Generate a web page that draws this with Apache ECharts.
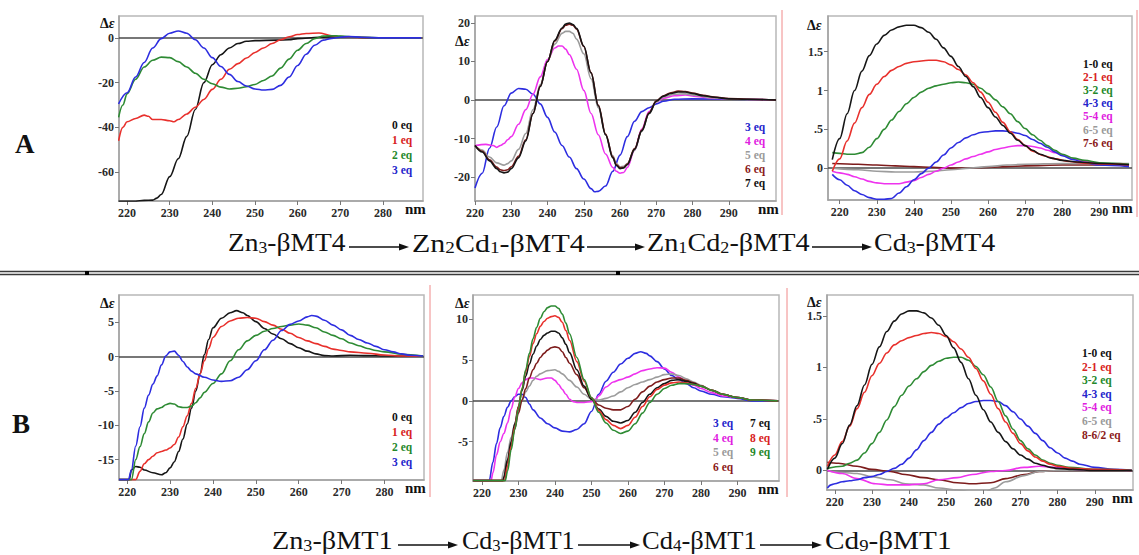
<!DOCTYPE html>
<html>
<head>
<meta charset="utf-8">
<script src="https://cdn.jsdelivr.net/npm/echarts@6/dist/echarts.min.js"></script>
<style>
html,body{margin:0;padding:0;background:#fff;}
#chart{width:1139px;height:555px;}
</style>
</head>
<body>
<div id="chart"></div>
<script>
// ---------- CD spectra: [wavelength nm, Δε] ----------
// Row A, panel 1: Zn3-βMT4 + Cd(II)
const a1Eq0 = [[218,-73],[220,-73],[222,-73],[224,-72.6],[226,-72.5],[227,-71.6],[228,-70],[230,-62],[232,-54],[234,-44],[236,-32],[238,-20],[240,-12],[242,-7.5],[244,-4.5],[246,-2.5],[248,-1.5],[250,-1.2],[255,-1],[258,-0.8],[260,-0.3],[265,0.3],[270,0.6],[275,0.2],[280,0],[289,0]];
const a1Eq1 = [[218,-46],[219,-40],[220,-37.5],[222,-36],[224,-34.5],[225,-35],[226,-36.5],[228,-36.5],[230,-37],[231,-37.5],[232,-36.5],[234,-34],[236,-31],[238,-27.5],[240,-23],[242,-18.5],[244,-14],[246,-11.5],[248,-9],[250,-6.5],[252,-4.5],[254,-2.5],[256,-0.8],[258,0.5],[260,1.5],[262,2],[265,2.2],[268,1],[270,0.5],[275,0.2],[280,0],[289,0]];
const a1Eq2 = [[218,-35.5],[219,-30],[220,-25],[222,-18.5],[224,-13],[226,-10],[228,-8.6],[230,-8.8],[232,-10.6],[234,-13],[236,-15.8],[238,-18.5],[240,-20.5],[242,-22],[244,-22.8],[246,-22.5],[248,-21.8],[250,-20.8],[252,-19],[254,-17],[256,-13.5],[258,-9.5],[260,-5.5],[262,-2.5],[264,-0.3],[266,0.8],[268,1],[270,0.8],[275,0.3],[280,0],[289,0]];
const a1Eq3 = [[218,-29.5],[220,-24.5],[222,-17.5],[224,-11],[226,-4.5],[228,-0.3],[230,2.1],[232,3.1],[234,2.1],[236,-0.8],[238,-4.5],[240,-8.8],[242,-12.8],[244,-16.3],[246,-19.5],[248,-21.5],[250,-22.8],[252,-23.3],[254,-23],[256,-21.2],[258,-17.5],[260,-12.3],[262,-7.3],[264,-3.3],[266,-1],[268,-0.2],[270,0.3],[272,0.6],[275,0.3],[280,0],[289,0]];

// Row A, panel 2: Zn2Cd1-βMT4 -> Zn1Cd2-βMT4
const a2Eq3 = [[220,-22.8],[222,-19],[224,-12.5],[226,-7],[228,-1.5],[230,1.8],[232,3],[234,2.8],[236,1.5],[238,-1],[240,-4.5],[242,-8.3],[244,-11.8],[246,-14.8],[248,-17.8],[250,-20.5],[252,-23],[253,-23.8],[254,-23.7],[256,-22.3],[258,-18.5],[260,-14.3],[262,-9.5],[264,-5.5],[266,-3],[268,-2],[270,-1],[272,-0.3],[275,0.2],[280,0.3],[290,0.2],[303,0]];
const a2Eq4 = [[220,-11.8],[223,-11.5],[225,-11.8],[226,-12.3],[227,-11.8],[228,-11.3],[229,-10.3],[230,-9.5],[232,-6.3],[234,-2.5],[236,1.5],[238,6],[240,10.5],[242,13.5],[243,14],[244,14],[245,13.2],[246,11.8],[248,8],[250,2.5],[252,-3.5],[254,-9],[256,-14],[258,-17.5],[259,-18.5],[260,-19],[261,-18.8],[262,-17.5],[264,-13],[266,-7.5],[268,-3],[270,-0.5],[272,0.5],[275,1.1],[278,1.3],[281,0.9],[285,0.5],[290,0.3],[303,0]];
const a2Eq5 = [[220,-11.8],[222,-13],[224,-14.8],[226,-16.3],[228,-16.9],[229,-16.5],[230,-15.8],[232,-12.8],[234,-8.7],[236,-2.5],[238,4],[240,10],[242,14.5],[244,17.3],[245,17.8],[246,17.8],[247,17.3],[248,15.8],[250,12],[252,5.5],[254,-2],[256,-9],[258,-14.5],[259,-16.5],[260,-17.3],[261,-17.2],[262,-16.5],[264,-13],[266,-8],[268,-3.5],[270,-0.5],[272,0.8],[275,1.5],[278,1.6],[281,1.2],[285,0.6],[290,0.3],[303,0]];
const a2Eq6 = [[220,-11.8],[222,-13.3],[224,-15.5],[226,-17.4],[227,-18.1],[228,-18.3],[229,-18.1],[230,-17.3],[232,-14.6],[234,-10.3],[236,-3.5],[238,3.6],[240,10],[242,15.3],[244,18.5],[245,19.4],[246,19.7],[247,19.4],[248,18.4],[250,13.9],[252,7.1],[254,-1.3],[256,-8.8],[258,-14.8],[259,-16.8],[260,-17.6],[261,-17.5],[262,-16.6],[264,-12.6],[266,-7.8],[268,-3.3],[270,-0.2],[272,1.1],[274,1.9],[276,2.3],[278,2.2],[280,1.8],[283,1.2],[286,0.8],[290,0.4],[295,0.2],[303,0]];
const a2Eq7 = [[220,-11.8],[222,-13.5],[224,-15.8],[226,-17.8],[227,-18.6],[228,-18.9],[229,-18.7],[230,-17.8],[232,-15],[234,-10.6],[236,-3.5],[238,3.5],[240,10],[242,15.5],[244,18.7],[245,19.7],[246,20],[247,19.6],[248,18.6],[250,14],[252,7],[254,-1.5],[256,-9],[258,-15],[259,-17],[260,-17.8],[261,-17.6],[262,-16.8],[264,-12.8],[266,-8],[268,-3.5],[270,-0.3],[272,1],[274,1.7],[276,2.1],[278,2.1],[280,1.7],[283,1.1],[286,0.7],[290,0.3],[295,0.2],[303,0]];

// Row A, panel 3: difference spectra
const a3D10 = [[218,0.11],[220,0.38],[222,0.7],[224,1.0],[226,1.25],[228,1.45],[230,1.6],[232,1.71],[234,1.78],[236,1.82],[238,1.84],[240,1.84],[242,1.81],[244,1.75],[246,1.66],[248,1.55],[250,1.44],[252,1.31],[254,1.18],[256,1.05],[258,0.91],[260,0.78],[262,0.66],[264,0.55],[266,0.45],[268,0.36],[270,0.29],[272,0.23],[274,0.18],[277,0.13],[280,0.1],[284,0.08],[290,0.06],[298,0.045]];
const a3D21 = [[218,-0.04],[220,0.12],[222,0.35],[224,0.58],[226,0.78],[228,0.95],[230,1.08],[232,1.18],[234,1.26],[236,1.31],[238,1.35],[240,1.37],[244,1.39],[246,1.39],[248,1.37],[250,1.33],[252,1.27],[254,1.2],[256,1.1],[258,0.98],[260,0.85],[262,0.72],[264,0.59],[266,0.47],[268,0.37],[270,0.29],[272,0.22],[275,0.16],[278,0.12],[282,0.085],[286,0.065],[290,0.055],[298,0.045]];
const a3D32 = [[218,0.2],[220,0.19],[222,0.18],[224,0.18],[226,0.2],[228,0.27],[230,0.38],[232,0.5],[234,0.62],[236,0.73],[238,0.83],[240,0.91],[242,0.98],[244,1.03],[246,1.06],[248,1.08],[250,1.1],[252,1.11],[254,1.1],[256,1.08],[258,1.03],[260,0.96],[262,0.88],[264,0.79],[266,0.7],[268,0.6],[270,0.51],[272,0.43],[274,0.36],[276,0.29],[278,0.23],[280,0.18],[283,0.13],[286,0.1],[290,0.07],[298,0.05]];
const a3D43 = [[218,-0.08],[220,-0.15],[222,-0.22],[224,-0.29],[226,-0.34],[228,-0.38],[230,-0.4],[232,-0.4],[234,-0.39],[236,-0.32],[238,-0.24],[240,-0.15],[242,-0.07],[244,0.0],[246,0.08],[248,0.17],[250,0.26],[252,0.33],[254,0.39],[256,0.43],[258,0.46],[260,0.47],[262,0.48],[264,0.48],[266,0.47],[268,0.45],[270,0.42],[272,0.37],[274,0.32],[276,0.27],[278,0.21],[280,0.16],[283,0.11],[286,0.07],[290,0.04],[298,0.02]];
const a3D54 = [[218,-0.04],[220,-0.06],[222,-0.08],[224,-0.11],[226,-0.14],[228,-0.17],[230,-0.19],[232,-0.2],[234,-0.2],[236,-0.2],[238,-0.18],[240,-0.16],[242,-0.12],[244,-0.08],[246,-0.04],[248,0.0],[250,0.04],[252,0.08],[254,0.12],[256,0.15],[258,0.18],[260,0.21],[262,0.24],[264,0.26],[266,0.28],[268,0.29],[270,0.29],[272,0.28],[274,0.26],[276,0.23],[278,0.2],[280,0.17],[283,0.12],[286,0.09],[290,0.06],[298,0.04]];
const a3D65 = [[218,0.0],[225,-0.02],[230,-0.04],[235,-0.05],[240,-0.05],[245,-0.04],[250,-0.02],[255,0.0],[260,0.02],[265,0.04],[270,0.05],[280,0.06],[290,0.06],[298,0.06]];
const a3D76 = [[218,0.06],[225,0.05],[230,0.04],[235,0.03],[240,0.02],[245,0.01],[250,0.0],[255,0.0],[260,0.01],[265,0.02],[270,0.03],[280,0.04],[290,0.04],[298,0.04]];

// Row B, panel 1: Zn3-βMT1 + Cd(II)
const b1Eq0 = [[218.1,-17.9],[220.5,-17.9],[221,-16.5],[222,-16],[223,-16.1],[224,-16.5],[226,-16.9],[228,-17.2],[229,-16.9],[230,-16.2],[231,-15.3],[232,-13.8],[233,-12],[234,-9.8],[235,-7.5],[236,-5],[237,-2.5],[238,0.3],[239,2.5],[240,4.2],[242,5.6],[244,6.4],[245.5,6.7],[247,6.4],[248,6.0],[250,5.1],[252,4.1],[254,3.3],[256,2.6],[258,1.9],[260,1.3],[262,0.8],[264,0.4],[266,0.15],[268,0.1],[272,0.2],[276,0.15],[280,0.1],[289,0.05]];
const b1Eq1 = [[218.1,-17.9],[222,-17.9],[223,-16.7],[224,-15.6],[225,-15],[226,-14.5],[227,-14],[228,-13.8],[229,-13.6],[230,-13.3],[231,-12.8],[232,-11.7],[233,-10.2],[234,-8.6],[235,-6.8],[236,-4.6],[237,-2.5],[238,-0.6],[239,1.2],[240,2.8],[242,4.4],[244,5.2],[246,5.6],[248,5.7],[250,5.6],[252,5.1],[254,4.6],[256,4.0],[258,3.4],[260,2.8],[262,2.3],[264,1.9],[266,1.5],[268,1.1],[270,0.9],[272,0.7],[276,0.5],[280,0.25],[284,0.1],[289,0.05]];
const b1Eq2 = [[218.1,-17.9],[221,-17.9],[222,-15],[223,-13.1],[224,-11.2],[225,-9.5],[226,-8.2],[227,-7.6],[228,-7.4],[229,-7.0],[230,-6.8],[231,-6.9],[232,-7.3],[233,-7.4],[234,-7.4],[235,-7.2],[236,-6.7],[237,-6.0],[238,-5.2],[240,-3.9],[242,-2.5],[244,-0.6],[246,1.0],[248,2.3],[250,3.1],[252,3.7],[254,4.1],[256,4.4],[258,4.6],[260,4.75],[262,4.6],[264,4.2],[266,3.6],[268,3.1],[270,2.6],[272,2.0],[274,1.6],[276,1.2],[278,0.9],[280,0.7],[284,0.35],[289,0.1]];
const b1Eq3 = [[218.1,-17.9],[220.3,-17.9],[221,-16.5],[222,-13],[223,-10.2],[224,-7.5],[225,-5.6],[226,-4],[227,-2.8],[228,-1.2],[229,0.1],[230,0.7],[231,0.8],[232,0.2],[233,-0.7],[234,-1.5],[235,-2.1],[236,-2.5],[238,-3.0],[240,-3.4],[242,-3.6],[244,-3.5],[246,-3.0],[248,-1.9],[250,-0.6],[252,1],[254,2.4],[256,3.8],[258,4.7],[260,5.2],[262,5.8],[263,6.0],[264,5.9],[266,5.3],[268,4.6],[270,3.9],[272,3.1],[274,2.5],[276,2.0],[278,1.5],[280,1.0],[282,0.7],[284,0.4],[286,0.2],[289,0.1]];

// Row B, panel 2: Cd3-βMT1 -> Cd9-βMT1
const b2Eq3 = [[217.6,-9.75],[222,-9.75],[223,-7.5],[224,-5.2],[225,-3.3],[226,-1.9],[227,-0.8],[228,0.0],[229,0.5],[230,0.8],[231,0.8],[232,0.4],[233,-0.4],[234,-1.1],[236,-2.1],[238,-2.8],[240,-3.3],[242,-3.7],[244,-3.8],[246,-3.5],[248,-2.8],[250,-1.3],[252,0.8],[254,2.4],[256,3.5],[258,4.5],[260,5.2],[262,5.8],[263.5,6.0],[265,5.8],[266,5.5],[268,4.8],[270,3.9],[272,3.1],[274,2.6],[276,2.1],[278,1.6],[280,1.2],[283,0.8],[286,0.5],[290,0.3],[294,0],[301,0]];
const b2Eq4 = [[217.6,-9.75],[222.5,-9.75],[223,-8.8],[224,-6.6],[225,-5.0],[226,-4.0],[227,-2.7],[228,-1.0],[229,0.5],[230,1.5],[231,2.2],[232,2.6],[233,2.8],[234,2.8],[235,2.7],[236,2.6],[237,2.7],[238,2.8],[239,2.8],[240,2.5],[241,2.0],[242,1.4],[243,0.8],[244,0.2],[245,-0.1],[246,-0.2],[248,-0.2],[250,-0.1],[251,0.1],[252,0.6],[254,1.7],[256,2.3],[258,2.6],[260,2.9],[262,3.3],[264,3.7],[266,3.9],[268,4.05],[270,4.0],[272,3.5],[274,2.9],[276,2.3],[278,1.9],[280,1.5],[283,1.0],[286,0.6],[290,0.4],[294,0.1],[301,0]];
const b2Eq5 = [[217.6,-9.75],[225.3,-9.75],[226,-8.5],[227,-6.3],[228,-4.5],[229,-2.8],[230,-1.1],[231,0.1],[232,1.1],[233,1.8],[234,2.5],[235,3.0],[236,3.3],[238,3.7],[240,3.8],[241,3.6],[242,3.3],[244,2.5],[246,1.7],[248,0.8],[250,0.2],[252,0.1],[254,0.3],[256,0.6],[258,1.1],[260,1.6],[262,2.0],[264,2.3],[266,2.6],[268,2.9],[270,3.2],[272,3.3],[274,3.1],[276,2.7],[278,2.3],[280,1.9],[283,1.2],[286,0.8],[290,0.4],[294,0.1],[301,0]];
const b2Eq6 = [[217.6,-9.75],[225.8,-9.75],[226,-9.4],[227,-7.5],[228,-5.4],[229,-3.4],[230,-1.5],[231,0.1],[232,1.5],[233,2.8],[234,3.8],[235,4.6],[236,5.3],[237,5.8],[238,6.2],[239,6.5],[240,6.6],[241,6.5],[242,6.0],[243,5.3],[244,4.6],[246,3.2],[248,1.6],[250,0.3],[252,-0.5],[254,-0.9],[256,-1.1],[258,-1.1],[260,-0.7],[262,0.2],[264,1.1],[266,1.8],[268,2.3],[270,2.6],[272,2.8],[274,2.8],[276,2.5],[278,2.2],[280,1.8],[283,1.3],[286,0.8],[290,0.4],[294,0.1],[301,0]];
const b2Eq7 = [[217.6,-9.75],[225.8,-9.75],[226,-9.3],[227,-7.2],[228,-5.0],[229,-2.8],[230,-0.7],[231,1.3],[232,3.0],[233,4.5],[234,5.7],[235,6.7],[236,7.5],[237,8.0],[238,8.3],[239,8.5],[240,8.5],[241,8.3],[242,7.7],[243,6.9],[244,5.9],[246,3.8],[248,1.8],[250,0.2],[252,-1.0],[254,-1.9],[256,-2.5],[258,-2.7],[260,-2.4],[262,-1.4],[264,-0.2],[266,0.8],[268,1.6],[270,2.1],[272,2.5],[274,2.6],[276,2.4],[278,2.1],[280,1.8],[283,1.3],[286,0.8],[290,0.4],[294,0.1],[301,0]];
const b2Eq8 = [[217.6,-9.75],[226.2,-9.75],[227,-8.0],[228,-5.6],[229,-3.2],[230,-0.8],[231,1.5],[232,3.6],[233,5.4],[234,7.0],[235,8.2],[236,9.1],[237,9.7],[238,10.1],[239,10.3],[240,10.4],[241,10.2],[242,9.6],[243,8.6],[244,7.4],[246,4.8],[248,2.4],[250,0.4],[252,-1.2],[254,-2.3],[256,-3.0],[258,-3.4],[260,-3.0],[262,-2.0],[264,-0.7],[266,0.5],[268,1.4],[270,1.9],[272,2.2],[274,2.3],[276,2.2],[278,2.0],[280,1.8],[283,1.3],[286,0.8],[290,0.4],[294,0.1],[301,0]];
const b2Eq9 = [[217.6,-9.75],[226.4,-9.75],[227,-8.6],[228,-6.0],[229,-3.5],[230,-1.0],[231,1.5],[232,3.8],[233,5.8],[234,7.6],[235,9.0],[236,10.1],[237,10.9],[238,11.4],[239,11.6],[240,11.6],[241,11.3],[242,10.6],[243,9.5],[244,8.2],[246,5.3],[248,2.6],[250,0.4],[252,-1.4],[254,-2.7],[256,-3.6],[258,-4.0],[260,-3.7],[262,-2.8],[264,-1.5],[266,-0.2],[268,0.8],[270,1.5],[272,1.9],[274,2.1],[276,2.1],[278,2.0],[280,1.8],[283,1.3],[286,0.8],[290,0.4],[294,0.1],[301,0]];

// Row B, panel 3: difference spectra
const b3D10 = [[218,0.01],[220,0.12],[222,0.26],[224,0.44],[226,0.63],[228,0.83],[230,1.03],[232,1.2],[234,1.35],[236,1.45],[238,1.52],[240,1.55],[242,1.55],[244,1.53],[246,1.48],[248,1.41],[250,1.31],[252,1.19],[254,1.05],[256,0.89],[258,0.73],[260,0.59],[262,0.47],[264,0.37],[266,0.28],[268,0.21],[270,0.15],[272,0.11],[274,0.07],[276,0.05],[278,0.03],[280,0.02],[284,0.01],[290,0.0],[300,0]];
const b3D21 = [[218,0.04],[220,0.15],[222,0.28],[224,0.43],[226,0.6],[228,0.76],[230,0.92],[232,1.04],[234,1.14],[236,1.22],[238,1.26],[240,1.29],[242,1.31],[244,1.33],[246,1.34],[248,1.33],[250,1.3],[252,1.25],[254,1.18],[256,1.1],[258,0.99],[260,0.87],[262,0.74],[264,0.6],[266,0.47],[268,0.36],[270,0.26],[272,0.19],[274,0.13],[276,0.09],[278,0.06],[280,0.04],[284,0.02],[290,0.01],[300,0]];
const b3D32 = [[218,0.02],[222,0.04],[224,0.07],[226,0.1],[228,0.17],[230,0.26],[232,0.37],[234,0.49],[236,0.62],[238,0.73],[240,0.82],[242,0.89],[244,0.96],[246,1.02],[248,1.06],[250,1.09],[252,1.1],[254,1.1],[256,1.07],[258,1.01],[260,0.93],[262,0.81],[264,0.67],[266,0.53],[268,0.4],[270,0.29],[272,0.21],[274,0.15],[276,0.1],[278,0.07],[280,0.05],[283,0.03],[290,0.01],[300,0]];
const b3D43 = [[218,-0.17],[219,-0.14],[220,-0.13],[222,-0.11],[224,-0.1],[226,-0.09],[228,-0.07],[230,-0.06],[232,-0.04],[234,-0.01],[236,0.02],[238,0.06],[240,0.12],[242,0.2],[244,0.29],[246,0.37],[248,0.45],[250,0.51],[252,0.56],[254,0.61],[256,0.65],[258,0.67],[260,0.68],[262,0.68],[264,0.67],[266,0.63],[268,0.57],[270,0.5],[272,0.43],[274,0.36],[276,0.29],[278,0.22],[280,0.17],[282,0.12],[284,0.09],[286,0.06],[290,0.03],[295,0.01],[300,0]];
const b3D54 = [[218,0],[222,-0.03],[226,-0.08],[231,-0.13],[235,-0.14],[239,-0.14],[244,-0.13],[248,-0.09],[253,-0.07],[257,-0.04],[262,-0.01],[266,0.0],[271,0.03],[275,0.04],[280,0.03],[285,0.01],[300,0]];
const b3D65 = [[218,0],[222,-0.02],[226,-0.03],[230,-0.06],[235,-0.09],[239,-0.13],[244,-0.14],[248,-0.17],[253,-0.19],[257,-0.21],[260,-0.22],[263,-0.17],[266,-0.11],[271,-0.05],[275,-0.01],[280,0],[300,0]];
const b3D86 = [[218,0.08],[221,0.07],[226,0.04],[230,0.01],[235,-0.01],[239,-0.04],[244,-0.07],[248,-0.09],[253,-0.12],[257,-0.13],[262,-0.12],[266,-0.08],[271,-0.04],[275,-0.01],[280,0],[300,0]];

// ---------- tick values and labels ----------
const xTicks7 = [220,230,240,250,260,270,280];
const xTicks8 = [220,230,240,250,260,270,280,290];
const yTicksA1 = [-60,-40,-20,0];
const yTicksA2 = [-20,-10,0,10,20];
const yTicksDiff = [0,0.5,1,1.5];
const yTicksB1 = [-15,-10,-5,0,5];
const yTicksB2 = [-5,0,5,10];

const legendA1 = ['0 eq','1 eq','2 eq','3 eq'];
const legendA2 = ['3 eq','4 eq','5 eq','6 eq','7 eq'];
const legendA3 = ['1-0 eq','2-1 eq','3-2 eq','4-3 eq','5-4 eq','6-5 eq','7-6 eq'];
const legendB1 = ['0 eq','1 eq','2 eq','3 eq'];
const legendB2a = ['3 eq','4 eq','5 eq','6 eq'];
const legendB2b = ['7 eq','8 eq','9 eq'];
const legendB3 = ['1-0 eq','2-1 eq','3-2 eq','4-3 eq','5-4 eq','6-5 eq','8-6/2 eq'];

const schemeA = ['Zn{s|3}-βMT4','Zn{s|2}Cd{s|1}-βMT4','Zn{s|1}Cd{s|2}-βMT4','Cd{s|3}-βMT4'];
const schemeB = ['Zn{s|3}-βMT1','Cd{s|3}-βMT1','Cd{s|4}-βMT1','Cd{s|9}-βMT1'];

// ---------- styling ----------
const FONT = '"Liberation Serif", "Times New Roman", serif';
const COL = {k:'#161616', r:'#e8302c', g:'#2e8b34', b:'#2d2de0', m:'#ee33ee', y:'#9c9c9c', d:'#7d1c1c'};
const TXT = {k:'#111111', r:'#d82222', g:'#24882a', b:'#2424cc', m:'#e020e0', y:'#9a9a9a', d:'#8b1a1a'};

const panels = [
  {grid:{left:119, top:16, width:304, height:185}, x:[218.1,289.4], y:[-72.9,9.8], xt:xTicks7, yt:yTicksA1,
   series:[[a1Eq0,'k'],[a1Eq1,'r'],[a1Eq2,'g'],[a1Eq3,'b']]},
  {grid:{left:475, top:16, width:301, height:185}, x:[220,303], y:[-26.2,21.8], xt:xTicks8, yt:yTicksA2,
   series:[[a2Eq3,'b'],[a2Eq4,'m'],[a2Eq5,'y'],[a2Eq6,'d'],[a2Eq7,'k']]},
  {grid:{left:828, top:16, width:304, height:184}, x:[216.85,298.8], y:[-0.41,1.96], xt:xTicks8, yt:yTicksDiff, frac:true,
   series:[[a3D76,'d'],[a3D65,'y'],[a3D54,'m'],[a3D43,'b'],[a3D32,'g'],[a3D21,'r'],[a3D10,'k']]},
  {grid:{left:119, top:295, width:305, height:185}, x:[218.1,289.2], y:[-17.96,8.98], xt:xTicks7, yt:yTicksB1,
   series:[[b1Eq0,'k'],[b1Eq1,'r'],[b1Eq2,'g'],[b1Eq3,'b']]},
  {grid:{left:473, top:295, width:306, height:186}, x:[217.55,301.4], y:[-9.8,12.94], xt:xTicks8, yt:yTicksB2,
   series:[[b2Eq3,'b'],[b2Eq4,'m'],[b2Eq5,'y'],[b2Eq6,'d'],[b2Eq7,'k'],[b2Eq8,'r'],[b2Eq9,'g']]},
  {grid:{left:827, top:295, width:306, height:195}, x:[217.9,300.3], y:[-0.19,1.704], xt:xTicks8, yt:yTicksDiff, frac:true,
   series:[[b3D86,'d'],[b3D65,'y'],[b3D54,'m'],[b3D43,'b'],[b3D32,'g'],[b3D21,'r'],[b3D10,'k']]}
];

const labelStyle = {fontFamily:FONT, fontWeight:'bold', fontSize:12, color:'#2a2a2a'};
const fracFmt = v => (v === 0 ? '0' : (v < 1 ? String(v).replace(/^0/, '') : String(v)));

const grids = [], xAxes = [], yAxes = [], seriesList = [];
panels.forEach((p, i) => {
  grids.push(Object.assign({show:true, borderColor:'#b8b8b8', borderWidth:1.5, backgroundColor:'transparent', outerBoundsMode:'none'}, p.grid));
  xAxes.push({
    gridIndex:i, type:'value', min:p.x[0], max:p.x[1],
    axisLine:{show:true, onZero:false, lineStyle:{color:'#a0a0a0', width:1.5}},
    axisTick:{show:true, length:4, customValues:p.xt, lineStyle:{color:'#777'}},
    axisLabel:Object.assign({customValues:p.xt, margin:6, showMinLabel:true}, labelStyle),
    splitLine:{show:false}
  });
  yAxes.push({
    gridIndex:i, type:'value', min:p.y[0], max:p.y[1],
    axisLine:{show:true, onZero:false, lineStyle:{color:'#a0a0a0', width:1.5}},
    axisTick:{show:true, length:4, customValues:p.yt, lineStyle:{color:'#777'}},
    axisLabel:Object.assign({customValues:p.yt, margin:5, formatter: p.frac ? fracFmt : (v => String(v))}, labelStyle),
    splitLine:{show:false}
  });
  p.series.forEach((s, j) => {
    const item = {
      type:'line', xAxisIndex:i, yAxisIndex:i, data:s[0],
      smooth:0.35, smoothMonotone:'x', showSymbol:false, clip:true, silent:true,
      lineStyle:{color:COL[s[1]], width:1.6}, z:3, animation:false
    };
    if (j === 0) {
      item.markLine = {silent:true, symbol:'none', z:2, label:{show:false},
        lineStyle:{color:'#4a4a4a', width:1.6, type:'solid'}, data:[{yAxis:0}], animation:false};
    }
    seriesList.push(item);
  });
});

// ---------- annotations ----------
const g = [];
function text(x, y, str, opt) {
  g.push({type:'text', x:x, y:y, silent:true,
    style:Object.assign({text:str, fontFamily:FONT, fontSize:12, fontWeight:'bold', fill:'#111',
      align:'left', verticalAlign:'middle'}, opt || {})});
}
function deltaEps(x, y) {
  g.push({type:'text', x:x, y:y, silent:true, style:{
    text:'{d|Δ}{e|ε}', align:'left', verticalAlign:'middle',
    rich:{d:{fontFamily:FONT, fontSize:14, fontWeight:'bold', fill:'#111'},
          e:{fontFamily:FONT, fontSize:14, fontWeight:'bold', fontStyle:'italic', fill:'#111'}}}});
}
function legend(x, y0, step, names, keys) {
  names.forEach((n, k) => text(x, y0 + k * step, n, {fill:TXT[keys[k]], fontSize:11.5}));
}
function arrow(x1, x2, y) {
  g.push({type:'line', silent:true, shape:{x1:x1, y1:y, x2:x2 - 7, y2:y}, style:{stroke:'#111', lineWidth:1.3}});
  g.push({type:'polygon', silent:true, shape:{points:[[x2, y], [x2 - 10, y - 3.5], [x2 - 10, y + 3.5]]}, style:{fill:'#111'}});
}
// reaction scheme: compound names (slightly widened serif) joined by arrows
function scheme(parts, xs, widths, arrows, y) {
  parts.forEach((t, k) => g.push({type:'text', x:xs[k], y:y, silent:true, scaleX:widths[k], style:{
    text:t, fontFamily:FONT, fontSize:25, fill:'#111', align:'left', verticalAlign:'middle',
    rich:{s:{fontFamily:FONT, fontSize:16, fill:'#111', verticalAlign:'bottom'}}}}));
  arrows.forEach(a => arrow(a[0], a[1], y + 4));
}

// row letters
text(15, 144, 'A', {fontSize:27});
text(12, 424, 'B', {fontSize:27});

// axis titles
deltaEps(100, 23); deltaEps(455, 41); deltaEps(807, 25);
deltaEps(100, 303); deltaEps(455, 303); deltaEps(807, 302);
text(405, 209, 'nm', {fontSize:15}); text(758, 209, 'nm', {fontSize:15}); text(1112, 208, 'nm', {fontSize:15});
text(405, 488, 'nm', {fontSize:15}); text(758, 489, 'nm', {fontSize:15}); text(1112, 498, 'nm', {fontSize:15});

// legends
legend(392, 125, 15, legendA1, ['k','r','g','b']);
legend(745, 127, 14, legendA2, ['b','m','y','d','k']);
legend(1083, 64, 13.1, legendA3, ['k','r','g','b','m','y','d']);
legend(392, 417, 15, legendB1, ['k','r','g','b']);
legend(713, 423, 14.5, legendB2a, ['b','m','y','d']);
legend(750, 423, 14.5, legendB2b, ['k','r','g']);
legend(1082, 353, 13.6, legendB3, ['k','r','g','b','m','y','d']);

// reaction schemes
scheme(schemeA, [228, 412, 647, 874], [1.1, 1.2, 1.13, 1.12], [[349, 409], [587, 645], [812, 872]], 243);
scheme(schemeB, [272, 462, 642, 825], [1.13, 1.04, 1.06, 1.17], [[398, 458], [578, 640], [760, 822]], 541);

// row separator
g.push({type:'line', silent:true, shape:{x1:0, y1:271.5, x2:1139, y2:271.5}, style:{stroke:'#3a3a3a', lineWidth:1.3}});
g.push({type:'line', silent:true, shape:{x1:0, y1:274.5, x2:1139, y2:274.5}, style:{stroke:'#3a3a3a', lineWidth:1.6}});
g.push({type:'rect', silent:true, shape:{x:85, y:271, width:4, height:4}, style:{fill:'#000'}});
g.push({type:'rect', silent:true, shape:{x:616, y:271, width:4, height:4}, style:{fill:'#000'}});

// thin red frame edges
[[782, 10, 215], [1137, 10, 217], [430, 285, 497], [787, 288, 497]].forEach(l =>
  g.push({type:'line', silent:true, shape:{x1:l[0], y1:l[1], x2:l[0], y2:l[2]}, style:{stroke:'#f08a8a', lineWidth:1}}));

const chart = echarts.init(document.getElementById('chart'), null, {renderer:'svg'});
chart.setOption({
  animation:false,
  backgroundColor:'#ffffff',
  grid:grids, xAxis:xAxes, yAxis:yAxes, series:seriesList,
  graphic:{elements:g}
});
</script>
</body>
</html>
